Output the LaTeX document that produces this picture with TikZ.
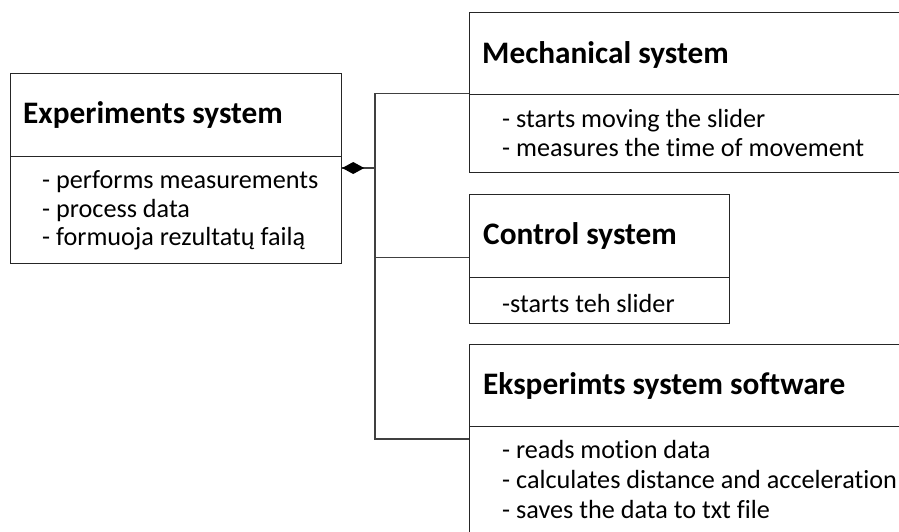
\documentclass[tikz,border=0pt]{standalone}
\usepackage{fontspec}
\setmainfont{Carlito}[Ligatures={NoCommon}]
\usetikzlibrary{arrows.meta,calc}
\tikzset{
  boxpart/.style={draw=black!85, line width=1.2pt, rectangle, anchor=north west, inner sep=0pt, fill=white},
  ttl/.style={anchor=base west, inner sep=0pt, font=\fontsize{31.3}{37}\selectfont\bfseries},
  itm/.style={anchor=base west, inner sep=0pt, font=\fontsize{26.2}{30}\selectfont},
  conn/.style={draw=black!75, line width=1.3pt}
}
\begin{document}
\begin{tikzpicture}[x=1pt,y=-1pt]
\useasboundingbox (0,0) rectangle (899,531);
\clip (0,0) rectangle (899,531);
\fill[white] (0,0) rectangle (899,531);

% Experiments system
\node[boxpart, minimum width=331, minimum height=83] (exph) at (10,73) {};
\node[boxpart, minimum width=331, minimum height=107] (expb) at (10,156) {};
\node[ttl] (expt) at (23,123) {Experiments system};
\node[itm] (exp1) at (42,188) {- performs measurements};
\node[itm] (exp2) at (42,217) {- process data};
\node[itm] (exp3) at (42,245) {- formuoja rezultatų failą};

% Mechanical system
\node[boxpart, minimum width=460, minimum height=82] (mechh) at (469,12) {};
\node[boxpart, minimum width=460, minimum height=78] (mechb) at (469,94) {};
\node[ttl] (mecht) at (482,63) {Mechanical system};
\node[itm] (mech1) at (502,127) {- starts moving the slider};
\node[itm] (mech2) at (502,156) {- measures the time of movement};

% Control system
\node[boxpart, minimum width=260, minimum height=83] (ctrlh) at (469,194) {};
\node[boxpart, minimum width=260, minimum height=46] (ctrlb) at (469,277) {};
\node[ttl] (ctrlt) at (483,244) {Control system};
\node[itm] (ctrl1) at (502,312) {-starts teh slider};

% Eksperimts system software
\node[boxpart, minimum width=460, minimum height=82] (softh) at (469,344) {};
\node[boxpart, minimum width=460, minimum height=140] (softb) at (469,426) {};
\node[ttl] (softt) at (483,394) {Eksperimts system software};
\node[itm] (soft1) at (502,458) {- reads motion data};
\node[itm] (soft2) at (502,488) {- calculates distance and acceleration};
\node[itm] (soft3) at (502,518) {- saves the data to txt file};

% connectors
\coordinate (hub) at (375,168);
\coordinate (jm) at ([yshift=2pt]mechh.south west);
\coordinate (jc) at ($(ctrlh.west)!0.5!(ctrlh.south west)$);
\coordinate (js) at ([yshift=-13pt]softb.north west);
\draw[conn] (jm) -| (hub);
\draw[conn] (hub) |- (js);
\draw[conn] (hub |- jc) -- (jc);
\draw[conn] (hub -| exph.east) -- (hub);
\fill[black] (hub -| exph.east) -- ++(11,-6) -- ++(11,6) -- ++(-11,6) -- cycle;
\end{tikzpicture}
\end{document}
